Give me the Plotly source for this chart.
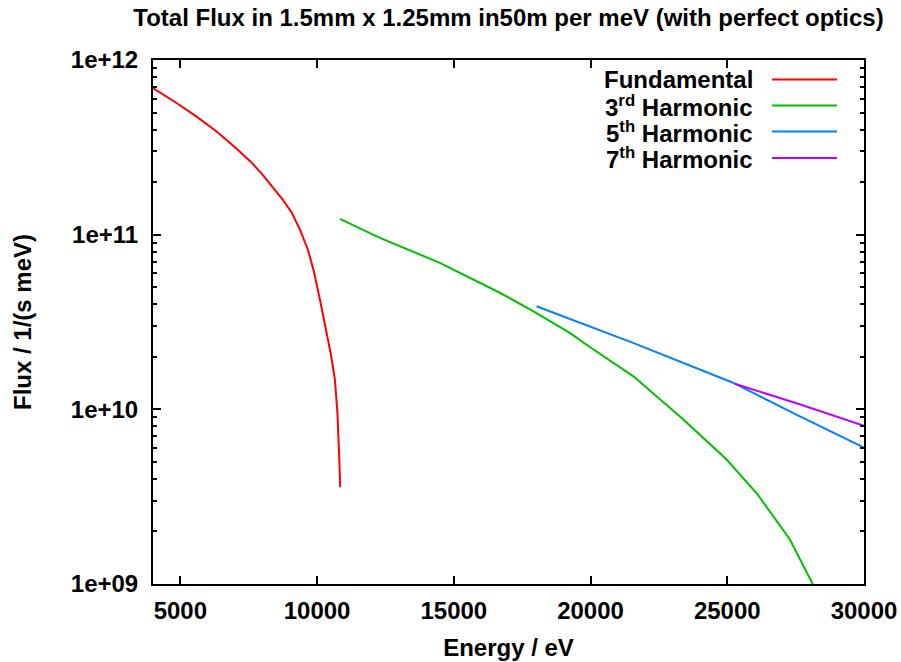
import plotly.graph_objects as go

# ---- data ----
fund_E = [4000, 4804, 5597, 6339, 7059, 7582, 8020, 8422, 8751, 9069, 9373, 9665, 9884,
          10104, 10323, 10506, 10652, 10743, 10809, 10846]
fund_F = [6.9e11, 5.75e11, 4.74e11, 3.88e11, 3.10e11, 2.61e11, 2.19e11, 1.84e11, 1.58e11, 1.34e11,
          1.07e11, 8.2e10, 6.15e10, 4.25e10, 2.87e10, 2.06e10, 1.48e10, 9.6e9, 5.38e9, 3.58e9]

h3_E = [10835, 12297, 14490, 16683, 17900, 19241, 20000, 21555, 23383, 24968, 26100, 27280, 28123, 28600]
h3_F = [1.23e11, 9.58e10, 6.9e10, 4.65e10, 3.65e10, 2.74e10, 2.26e10, 1.55e10, 8.77e9, 5.18e9, 3.27e9, 1.81e9, 1.0e9, 7.2e8]

h5_E = [18024, 21555, 25210, 27600, 30000]
h5_F = [3.89e10, 2.4e10, 1.42e10, 9.2e9, 6.04e9]

h7_E = [25272, 27647, 30000]
h7_F = [1.40e10, 1.07e10, 8.04e9]

series_names = ["Fundamental", "3<sup>rd</sup> Harmonic", "5<sup>th</sup> Harmonic", "7<sup>th</sup> Harmonic"]
series_colors = ["#ff0000", "#00c000", "#0080ff", "#c000ff"]

x_ticks = [5000, 10000, 15000, 20000, 25000, 30000]
y_ticks = [1e9, 1e10, 1e11, 1e12]
y_ticktext = ["1e+09", "1e+10", "1e+11", "1e+12"]
y_minor = [k * 10 ** e for e in (9, 10, 11) for k in range(2, 10)]

title_text = "Total Flux in 1.5mm x 1.25mm in50m per meV (with perfect optics)"
x_title = "Energy / eV"
y_title = "Flux / 1/(s meV)"

FONT = "Liberation Sans"
FS = 24

W, H = 901, 662
L, R, T, B = 153, 37, 60, 78

fig = go.Figure()
data = [(fund_E, fund_F), (h3_E, h3_F), (h5_E, h5_F), (h7_E, h7_F)]
for (xs, ys), name, col in zip(data, series_names, series_colors):
    fig.add_trace(go.Scatter(x=xs, y=ys, mode="lines", name=name,
                             line=dict(color=col, width=2), showlegend=False))

# custom gnuplot-style legend: text right-aligned, sample line on the right
pw, ph = W - L - R, H - T - B
def px2x(px):
    return (px - L) / pw
def py2y(py):
    return (H - B - py) / ph

row_y = [79.5, 105.5, 131.5, 158]
for name, col, ry in zip(series_names, series_colors, row_y):
    fig.add_annotation(x=px2x(755), y=py2y(ry), xref="paper", yref="paper",
                       text=name, showarrow=False, xanchor="right", yanchor="middle",
                       font=dict(family=FONT, size=FS, color="black", weight="bold"))
    fig.add_shape(type="line", xref="paper", yref="paper",
                  x0=px2x(772), x1=px2x(837), y0=py2y(ry), y1=py2y(ry),
                  line=dict(color=col, width=2))

axis_common = dict(showline=True, linecolor="black", linewidth=2, mirror="allticks",
                   ticks="inside", ticklen=8, tickwidth=1.5, tickcolor="black",
                   showgrid=False, zeroline=False,
                   tickfont=dict(family=FONT, size=FS, color="black", weight="bold"))

fig.update_xaxes(range=[4000, 30000], tickvals=x_ticks, ticktext=[str(v) for v in x_ticks],
                 title=dict(text=x_title, standoff=16,
                            font=dict(family=FONT, size=FS, color="black", weight="bold")),
                 ticklabelstandoff=4,
                 **axis_common)
fig.update_yaxes(type="log", range=[9, 12], tickvals=y_ticks, ticktext=y_ticktext,
                 minor=dict(tickvals=y_minor, ticks="inside", ticklen=4, tickcolor="black", tickwidth=1.5),
                 title=dict(text=y_title, standoff=32,
                            font=dict(family=FONT, size=FS, color="black", weight="bold")),
                 ticklabelstandoff=8,
                 **axis_common)

fig.update_layout(
    width=W, height=H,
    margin=dict(l=L, r=R, t=T, b=B, autoexpand=False),
    paper_bgcolor="white", plot_bgcolor="white",
    font=dict(family=FONT, size=FS, color="black", weight="bold"),
    title=dict(text=title_text, x=0.5, xref="paper", y=1 - 18 / H, yref="container",
               xanchor="center", yanchor="middle",
               font=dict(family=FONT, size=FS, color="black", weight="bold")),
)

fig.write_html("out.html")
